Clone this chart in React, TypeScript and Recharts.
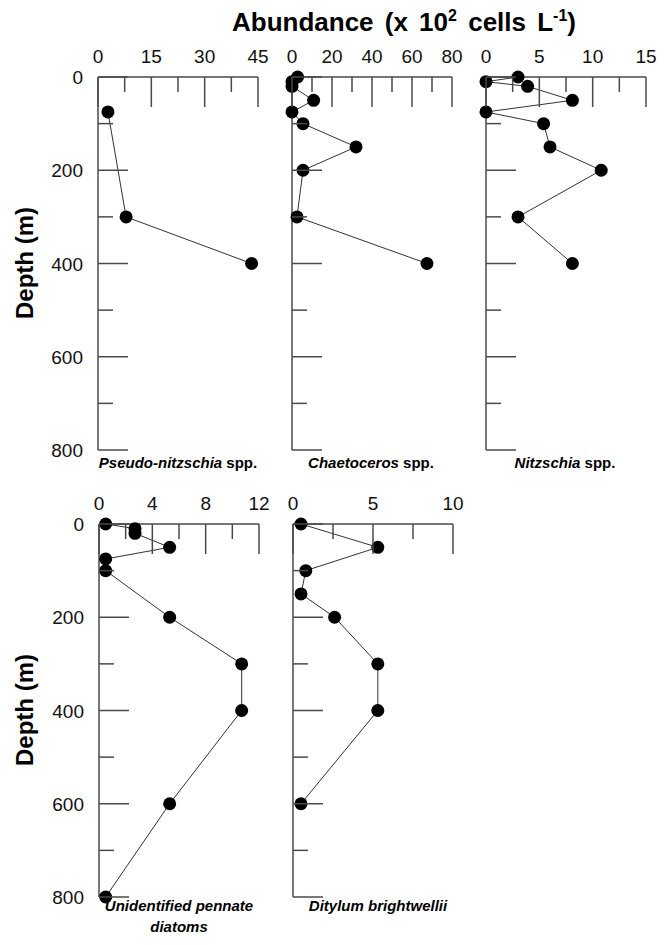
import React from 'react';
import { ScatterChart, Scatter, XAxis, YAxis } from 'recharts';

const FONT = '"Liberation Sans", Arial, Helvetica, sans-serif';
const AXIS = '#4a4a4a';
const LINE = '#333333';

// depth axis
const depthTicks = [0, 100, 200, 300, 400, 500, 600, 700, 800];
const depthLabels = [0, 200, 400, 600, 800];

// Pseudo-nitzschia spp.
const pseudoDepth = [75, 300, 400];
const pseudoVal = [2.8, 7.9, 43.2];
const pseudoTicks = [0, 7.5, 15, 22.5, 30, 37.5, 45];
const pseudoLabels = [0, 15, 30, 45];

// Chaetoceros spp.
const chaetoDepth = [0, 10, 20, 50, 75, 100, 150, 200, 300, 400];
const chaetoVal = [2.8, 0, 0, 10.8, 0, 5.5, 32, 5.5, 2.5, 67.5];
const chaetoTicks = [0, 10, 20, 30, 40, 50, 60, 70, 80];
const chaetoLabels = [0, 20, 40, 60, 80];

// Nitzschia spp.
const nitzDepth = [0, 10, 20, 50, 75, 100, 150, 200, 300, 400];
const nitzVal = [3.0, 0, 3.9, 8.1, 0, 5.4, 6.0, 10.8, 3.0, 8.1];
const nitzTicks = [0, 2.5, 5, 7.5, 10, 12.5, 15];
const nitzLabels = [0, 5, 10, 15];

// Unidentified pennate diatoms
const pennDepth = [0, 10, 20, 50, 75, 100, 200, 300, 400, 600, 800];
const pennVal = [0.5, 2.7, 2.7, 5.3, 0.5, 0.5, 5.3, 10.7, 10.7, 5.3, 0.5];
const pennTicks = [0, 2, 4, 6, 8, 10, 12];
const pennLabels = [0, 4, 8, 12];

// Ditylum brightwellii
const dityDepth = [0, 50, 100, 150, 200, 300, 400, 600];
const dityVal = [0.5, 5.3, 0.8, 0.5, 2.6, 5.3, 5.3, 0.5];
const dityTicks = [0, 2.5, 5, 7.5, 10];
const dityLabels = [0, 5, 10];

const PW = 160;
const PH = 373;
const ML = 60;
const MT = 40;
const MR = 12;
const MB = 12;

function XTick(props: any) {
  const { x, y, payload, labels } = props;
  const v = payload.value;
  const major = labels.includes(v);
  return (
    <g>
      <line x1={x} x2={x} y1={y} y2={y + (major ? 30 : 15)} stroke={AXIS} strokeWidth={1.5} />
      {major && (
        <text x={x} y={y - 14} textAnchor="middle" fontSize={19} fontFamily={FONT} fill="#111">
          {v}
        </text>
      )}
    </g>
  );
}

function YTick(props: any) {
  const { x, y, payload, show } = props;
  const v = payload.value;
  const major = depthLabels.includes(v);
  return (
    <g>
      <line x1={x} x2={x + (major ? 30 : 15)} y1={y} y2={y} stroke={AXIS} strokeWidth={1.5} />
      {show && major && (
        <text x={x - 15} y={y + 7} textAnchor="end" fontSize={19} fontFamily={FONT} fill="#111">
          {v}
        </text>
      )}
    </g>
  );
}

const Dot = (p: any) => <circle cx={p.cx} cy={p.cy} r={6.5} fill="#000" />;

function Panel(props: any) {
  const { left, top, depth, vals, xTicks, xLabels, xMax, showY } = props;
  const data = depth.map((d: number, i: number) => ({ d, v: vals[i] }));
  return (
    <div style={{ position: 'absolute', left: left - ML, top: top - MT }}>
      <ScatterChart
        width={ML + PW + MR}
        height={MT + PH + MB}
        margin={{ top: 0, right: MR, bottom: MB, left: 0 }}
        style={{ overflow: 'visible' }}
      >
        <XAxis
          xAxisId="x"
          type="number"
          dataKey="v"
          orientation="top"
          domain={[0, xMax]}
          ticks={xTicks}
          interval={0}
          tickSize={0}
          tickMargin={0}
          height={MT}
          axisLine={{ stroke: AXIS, strokeWidth: 1.5 }}
          tickLine={false}
          tick={(p: any) => <XTick {...p} labels={xLabels} />}
        />
        <YAxis
          yAxisId="y"
          type="number"
          dataKey="d"
          domain={[0, 800]}
          reversed
          ticks={depthTicks}
          interval={0}
          tickSize={0}
          tickMargin={0}
          width={ML}
          axisLine={{ stroke: AXIS, strokeWidth: 1.5 }}
          tickLine={false}
          tick={(p: any) => <YTick {...p} show={showY} />}
        />
        <Scatter
          xAxisId="x"
          yAxisId="y"
          data={data}
          line={{ stroke: LINE, strokeWidth: 1 }}
          lineType="joint"
          shape={Dot}
          isAnimationActive={false}
        />
      </ScatterChart>
    </div>
  );
}

const bold = { fontFamily: FONT, fontWeight: 700 as const, fill: '#000' };

export default function App() {
  return (
    <div
      style={{
        position: 'absolute',
        left: 0,
        top: 0,
        width: 667,
        height: 945,
        background: '#fff',
        overflow: 'hidden',
      }}
    >
      <Panel left={98} top={77} depth={pseudoDepth} vals={pseudoVal} xTicks={pseudoTicks} xLabels={pseudoLabels} xMax={45} showY />
      <Panel left={292} top={77} depth={chaetoDepth} vals={chaetoVal} xTicks={chaetoTicks} xLabels={chaetoLabels} xMax={80} showY={false} />
      <Panel left={486} top={77} depth={nitzDepth} vals={nitzVal} xTicks={nitzTicks} xLabels={nitzLabels} xMax={15} showY={false} />
      <Panel left={99} top={524} depth={pennDepth} vals={pennVal} xTicks={pennTicks} xLabels={pennLabels} xMax={12} showY />
      <Panel left={293} top={524} depth={dityDepth} vals={dityVal} xTicks={dityTicks} xLabels={dityLabels} xMax={10} showY={false} />

      <svg width={667} height={945} style={{ position: 'absolute', left: 0, top: 0, pointerEvents: 'none' }}>
        <text x={404} y={31} textAnchor="middle" fontSize={26} wordSpacing={4} {...bold}>
          Abundance (x 10
          <tspan dy={-10} fontSize={16}>2</tspan>
          <tspan dy={10}> cells L</tspan>
          <tspan dy={-10} fontSize={16}>-1</tspan>
          <tspan dy={10}>)</tspan>
        </text>

        <text transform="translate(33,263) rotate(-90)" textAnchor="middle" fontSize={24} {...bold}>
          Depth (m)
        </text>
        <text transform="translate(33,710) rotate(-90)" textAnchor="middle" fontSize={24} {...bold}>
          Depth (m)
        </text>

        <text x={178} y={468} textAnchor="middle" fontSize={15} {...bold}>
          <tspan fontStyle="italic">Pseudo-nitzschia</tspan> spp.
        </text>
        <text x={371} y={468} textAnchor="middle" fontSize={15} {...bold}>
          <tspan fontStyle="italic">Chaetoceros</tspan> spp.
        </text>
        <text x={565} y={468} textAnchor="middle" fontSize={15} {...bold}>
          <tspan fontStyle="italic">Nitzschia</tspan> spp.
        </text>

        <text x={179} y={911} textAnchor="middle" fontSize={15} fontStyle="italic" {...bold}>
          Unidentified pennate
        </text>
        <text x={179} y={932} textAnchor="middle" fontSize={15} fontStyle="italic" {...bold}>
          diatoms
        </text>
        <text x={378} y={911} textAnchor="middle" fontSize={15} fontStyle="italic" {...bold}>
          Ditylum brightwellii
        </text>
      </svg>
    </div>
  );
}
